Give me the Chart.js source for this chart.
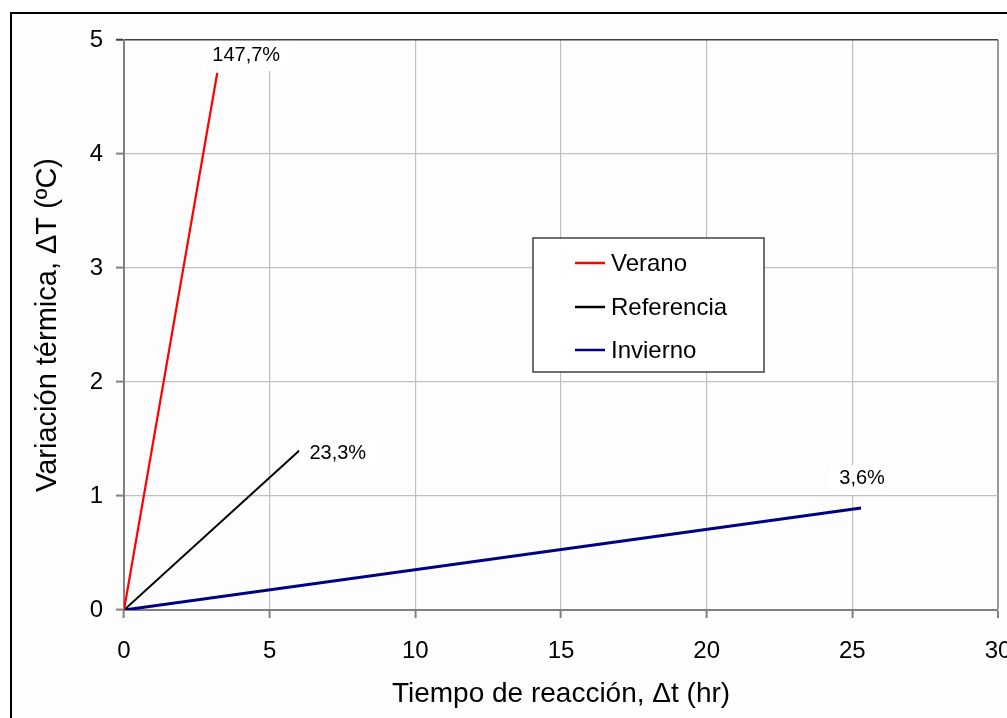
<!DOCTYPE html>
<html>
<head>
<meta charset="utf-8">
<script src="https://cdn.jsdelivr.net/npm/chart.js@4/dist/chart.umd.min.js"></script>
<style>
  html, body { margin: 0; padding: 0; background: #ffffff; }
  #wrap { width: 1007px; height: 718px; position: relative; }
</style>
</head>
<body>
<div id="wrap"><canvas id="c" width="1007" height="718"></canvas></div>
<script>
// ---- data ----
const seriesNames = ['Verano', 'Referencia', 'Invierno'];
const veranoX = [0, 3.2];
const veranoY = [0, 4.71];
const referenciaX = [0, 6.02];
const referenciaY = [0, 1.40];
const inviernoX = [0, 25.3];
const inviernoY = [0, 0.895];
const endLabels = ['147,7%', '23,3%', '3,6%'];
const xMin = 0, xMax = 30, xStep = 5;
const yMin = 0, yMax = 5, yStep = 1;
const xTitle = 'Tiempo de reacción, Δt (hr)';
const yTitle = 'Variación térmica, ΔT (ºC)';

const FONT = '"Liberation Sans", Arial, sans-serif';
const colors = ['#ff0000', '#000000', '#000080'];
const widths = [2.2, 2, 3];

function pts(xs, ys) { return xs.map((x, i) => ({ x: x, y: ys[i] })); }

// label placement offsets (pixels) relative to each series' last point
const labelOffsets = [
  { dx: 29, dy: -18, align: 'center' },
  { dx: 10, dy: 3, align: 'left' },
  { dx: 1, dy: -29, align: 'center' }
];

const decorPlugin = {
  id: 'decor',
  beforeDraw(chart) {
    const ctx = chart.ctx;
    ctx.save();
    ctx.fillStyle = '#ffffff';
    ctx.fillRect(0, 0, chart.width, chart.height);
    ctx.fillStyle = '#fdfdfd';
    ctx.fillRect(12, 14, chart.width - 12, chart.height - 14);
    ctx.strokeStyle = '#000000';
    ctx.lineWidth = 2;
    ctx.beginPath();
    ctx.moveTo(11, 718);
    ctx.lineTo(11, 13);
    ctx.lineTo(1007, 13);
    ctx.stroke();
    ctx.restore();
  },
  afterDatasetsDraw(chart) {
    const ctx = chart.ctx;
    const xs = chart.scales.x, ys = chart.scales.y;
    ctx.save();
    // end labels
    ctx.font = '20px ' + FONT;
    ctx.textBaseline = 'middle';
    chart.data.datasets.forEach((ds, i) => {
      const last = ds.data[ds.data.length - 1];
      const px = xs.getPixelForValue(last.x) + labelOffsets[i].dx;
      const py = ys.getPixelForValue(last.y) + labelOffsets[i].dy;
      const txt = endLabels[i];
      const w = ctx.measureText(txt).width;
      let left = labelOffsets[i].align === 'center' ? px - w / 2 : px;
      ctx.fillStyle = '#ffffff';
      ctx.fillRect(left - 10, py - 14, w + 20, 30);
      ctx.fillStyle = '#000000';
      ctx.textAlign = 'left';
      ctx.fillText(txt, left, py);
    });
    // legend box
    const bx = 533, by = 238, bw = 231, bh = 134;
    ctx.fillStyle = '#ffffff';
    ctx.fillRect(bx, by, bw, bh);
    ctx.strokeStyle = '#404040';
    ctx.lineWidth = 1.5;
    ctx.strokeRect(bx, by, bw, bh);
    ctx.font = '24px ' + FONT;
    ctx.textAlign = 'left';
    ctx.textBaseline = 'middle';
    const rows = [263, 307, 350];
    chart.data.datasets.forEach((ds, i) => {
      ctx.strokeStyle = ds.borderColor;
      ctx.lineWidth = 2.5;
      ctx.beginPath();
      ctx.moveTo(575, rows[i]);
      ctx.lineTo(605, rows[i]);
      ctx.stroke();
      ctx.fillStyle = '#000000';
      ctx.fillText(ds.label, 611, rows[i] + 1);
    });
    ctx.restore();
  }
};

new Chart(document.getElementById('c'), {
  type: 'scatter',
  data: {
    datasets: [
      { label: seriesNames[0], data: pts(veranoX, veranoY) },
      { label: seriesNames[1], data: pts(referenciaX, referenciaY) },
      { label: seriesNames[2], data: pts(inviernoX, inviernoY) }
    ].map((d, i) => Object.assign(d, {
      showLine: true,
      borderColor: colors[i],
      backgroundColor: colors[i],
      borderWidth: widths[i],
      pointRadius: 0,
      pointHoverRadius: 0,
      tension: 0
    }))
  },
  options: {
    responsive: false,
    animation: false,
    devicePixelRatio: 1,
    layout: { padding: { top: 40, right: 9, left: 0, bottom: 0 } },
    plugins: { legend: { display: false }, tooltip: { enabled: false } },
    scales: {
      x: {
        type: 'linear',
        min: xMin, max: xMax,
        afterFit(s) { s.height = 108; s.paddingLeft = 0; s.paddingRight = 0; },
        ticks: {
          stepSize: xStep,
          color: '#000000',
          font: { family: FONT, size: 24 },
          padding: 19,
          maxRotation: 0,
          autoSkip: false
        },
        grid: {
          color: c => (c.tick && c.tick.value === xMax) ? '#999999' : '#c0c0c0',
          lineWidth: c => (c.tick && c.tick.value === xMax) ? 2 : 1.2,
          tickColor: '#808080',
          tickLength: 8,
          tickWidth: 2
        },
        border: { color: '#808080', width: 2 },
        title: {
          display: true,
          text: xTitle,
          color: '#000000',
          font: { family: FONT, size: 28 },
          padding: { top: 0, bottom: 7 }
        }
      },
      y: {
        type: 'linear',
        min: yMin, max: yMax,
        afterFit(s) { s.width = 124; s.paddingTop = 0; s.paddingBottom = 0; },
        ticks: {
          stepSize: yStep,
          color: '#000000',
          font: { family: FONT, size: 24 },
          padding: 13
        },
        grid: {
          color: c => (c.tick && c.tick.value === yMax) ? '#404040' : '#c0c0c0',
          lineWidth: c => (c.tick && c.tick.value === yMax) ? 1.5 : 1.2,
          tickColor: c => (c.tick && c.tick.value === yMax) ? '#404040' : '#808080',
          tickLength: 8,
          tickWidth: 2
        },
        border: { color: '#808080', width: 2 },
        title: {
          display: true,
          text: yTitle,
          color: '#000000',
          font: { family: FONT, size: 29 },
          padding: { top: 31, bottom: 0 }
        }
      }
    }
  },
  plugins: [decorPlugin]
});
</script>
</body>
</html>
